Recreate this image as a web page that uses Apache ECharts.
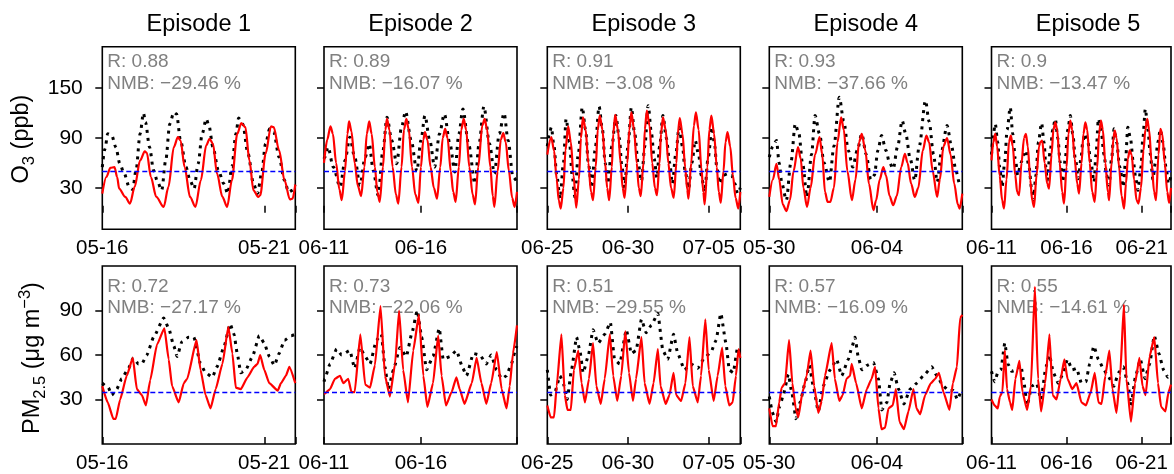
<!DOCTYPE html>
<html>
<head>
<meta charset="utf-8">
<script src="https://cdn.jsdelivr.net/npm/echarts@6/dist/echarts.min.js"></script>
<style>
  html, body { margin: 0; padding: 0; background: #fff; }
  #chart { width: 1174px; height: 474px; }
</style>
</head>
<body>
<div id="chart"></div>
<script>
// episodes / axes
const episodes = ['Episode 1', 'Episode 2', 'Episode 3', 'Episode 4', 'Episode 5'];
const startDates = [[5, 16], [6, 11], [6, 25], [5, 30], [6, 11]];
const hoursSpan = [143, 239, 287, 215, 287];
const o3Ticks = [30, 90, 150];
const pmTicks = [30, 60, 90];
const o3Thresh = 50;
const pmThresh = 35;
const o3R = ['0.88', '0.89', '0.91', '0.93', '0.9'];
const o3NMB = ['−29.46', '−16.07', '−3.08', '−37.66', '−13.47'];
const pmR = ['0.72', '0.73', '0.51', '0.57', '0.55'];
const pmNMB = ['−27.17', '−22.06', '−29.55', '−16.09', '−14.61'];

// O3 (ppb): [hour, value]
const o3Obs1 = [[0,55],[2,77],[4,95],[7,93],[10,79],[13,59],[16,48],[20,31],[22.5,28],[25,51],[28,95],[30.5,120],[32,109],[35,79],[38,51],[41,37],[44,27],[47,63],[50,107],[53,121],[55,119],[58,87],[62,55],[65,39],[68,29],[71,59],[74,95],[77,113],[79,105],[82,79],[86,51],[90,35],[93,23],[96,55],[99,95],[101,114],[104,107],[108,71],[112,35],[115,23],[118,47],[121,83],[124,101],[127,97],[131,67],[135,39],[138,25],[141,27],[143,33]];
const o3Mod1 = [[0,23],[3,43],[6,54],[9,55],[11,43],[12.5,29],[17,19],[20.5,11],[24,31],[28,63],[31.5,74],[33,72],[36,43],[40,19],[45.5,7],[49,31],[53,79],[56,91],[58,87],[61,55],[65,19],[69,7],[73,39],[77,81],[79.5,89],[82,83],[85,47],[89,19],[92.5,7],[96,39],[100,95],[103,108],[106,103],[109,63],[112,27],[115.5,19],[117,21],[121,71],[125,104],[127,103],[131,75],[135,39],[139,16],[141,17],[143,34]];
const o3Obs2 = [[0,65],[1,67],[5,79],[11.5,55],[20,31],[26,63],[32,91],[38,67],[44.5,33],[51,67],[56,83],[61,51],[67,21],[73,75],[78,115],[84,87],[90,59],[96,103],[101,122],[108,87],[115,50],[120,87],[125,117],[131,87],[137,55],[143,95],[149,119],[156,83],[162,49],[167,95],[172,125],[179,83],[187,35],[192,83],[198,128],[205,83],[211,47],[217,95],[223,120],[228,87],[234,43],[239,37]];
const o3Mod2 = [[0,60],[4,88],[8,104],[11,95],[15,60],[19,28],[22,15],[26,50],[29,95],[31,110],[34,98],[38,60],[42,32],[46,20],[50,55],[53,95],[56,110],[59,95],[63,55],[66,25],[69,13],[73,55],[76,100],[78,113],[81,100],[85,55],[89,22],[92,11],[96,55],[99,100],[102,113],[105,100],[109,55],[113,22],[117,12],[120,55],[123,88],[125,97],[128,88],[132,55],[136,30],[140,17],[144,55],[147,90],[150,101],[153,90],[157,50],[160,25],[163,13],[167,55],[170,100],[173,113],[176,100],[180,55],[184,22],[187,10],[191,55],[196,105],[199,113],[202,100],[206,55],[209,20],[211,7],[215,50],[219,88],[222,96],[225,85],[229,50],[233,18],[236,7],[239,25]];
const o3Obs3 = [[0,80],[3,95],[6,103],[10,80],[14,45],[19,17],[24,60],[28,113],[33,85],[37,45],[41,19],[46,70],[52,127],[57,100],[61,60],[66,30],[71,75],[77,128],[82,100],[86,60],[90,35],[96,80],[102,117],[107,90],[111,55],[115,30],[120,80],[125,127],[130,95],[135,60],[140,38],[145,80],[150,129],[155,95],[159,65],[163,42],[167,80],[172,117],[177,90],[182,60],[186,35],[191,70],[196,103],[201,80],[205,50],[210,29],[215,60],[220,87],[225,70],[229,45],[234,25],[239,65],[245,103],[249,80],[252,55],[256,35],[262,45],[268,47],[274,45],[279,35],[283,23],[287,30]];
const o3Mod3 = [[0,70],[6,91],[10,75],[14,40],[17,15],[20,5],[24,30],[27,75],[31,104],[35,85],[39,45],[43,6],[47,40],[50,90],[53,115],[57,100],[61,60],[65,25],[68,15],[72,55],[75,100],[78,117],[82,100],[86,60],[89,30],[92,15],[96,55],[98,95],[101,118],[105,100],[109,60],[112,30],[115,18],[119,60],[122,100],[125,121],[129,100],[133,60],[136,30],[139,20],[143,60],[145,100],[148,123],[152,105],[156,60],[160,30],[163,21],[167,60],[169,95],[172,115],[176,100],[180,60],[184,30],[188,18],[192,60],[194,95],[197,114],[201,95],[205,55],[208,28],[210,17],[214,60],[218,105],[221,121],[225,100],[229,55],[232,25],[234,10],[238,55],[241,100],[244,117],[248,95],[252,55],[255,25],[258,12],[262,50],[265,85],[268,97],[272,80],[276,45],[280,18],[284,5],[287,25]];
const o3Obs4 = [[0,67],[4,80],[8,87],[11,60],[14,35],[19,15],[24,60],[29,107],[33,95],[37,60],[42,19],[47,70],[51,117],[56,95],[61,60],[67,37],[72,80],[78,139],[83,110],[88,75],[93,55],[98,75],[103,95],[108,70],[113,40],[117,45],[121,75],[125,93],[130,75],[134,60],[138,53],[143,80],[148,111],[152,95],[157,65],[162,39],[167,80],[174,135],[178,110],[183,70],[187,37],[192,75],[198,105],[203,80],[208,50],[212,35],[215,33]];
const o3Mod4 = [[0,19],[4,40],[8,59],[11,40],[15,10],[19,2],[23,15],[27,50],[32,79],[35,65],[38,30],[42,7],[46,30],[51,70],[56,91],[59,70],[62,25],[65,13],[68,13],[72,30],[76,85],[80,115],[83,100],[87,50],[92,15],[96,40],[100,85],[103,95],[107,75],[111,35],[116,3],[119,15],[123,40],[127,55],[130,45],[134,20],[138,9],[142,20],[147,55],[151,71],[154,60],[158,35],[162,19],[166,30],[171,75],[175,93],[178,85],[182,50],[187,19],[190,40],[194,80],[198,90],[202,70],[206,35],[210,10],[212,5],[215,23]];
const o3Obs5 = [[0,70],[3,95],[6,107],[10,85],[13,55],[17,31],[21,60],[25,100],[30,127],[34,95],[38,65],[42,45],[47,60],[52,70],[55,75],[60,55],[64,30],[67,15],[71,45],[75,85],[80,108],[84,85],[87,55],[89,39],[94,75],[98,100],[102,113],[106,90],[110,60],[114,37],[118,65],[122,100],[126,117],[130,95],[134,65],[139,41],[143,65],[146,85],[149,95],[154,85],[159,60],[164,37],[167,70],[171,113],[175,100],[180,70],[184,45],[188,33],[192,65],[196,101],[200,85],[205,55],[211,31],[214,60],[218,103],[222,90],[227,60],[231,40],[234,27],[239,55],[242,90],[246,125],[250,100],[254,70],[258,40],[262,60],[266,85],[270,100],[274,85],[279,55],[283,35],[287,45]];
const o3Mod5 = [[0,63],[3,85],[6,95],[9,80],[13,45],[17,15],[20,5],[24,40],[28,85],[31,93],[34,80],[38,45],[41,25],[44,21],[48,60],[52,90],[55,95],[58,80],[62,40],[65,15],[68,7],[72,45],[76,80],[78,85],[81,87],[85,60],[89,35],[92,29],[96,70],[99,100],[102,109],[105,100],[109,60],[113,25],[116,11],[120,55],[123,95],[126,111],[129,100],[133,65],[137,35],[140,23],[144,60],[147,95],[150,109],[153,100],[157,60],[161,25],[165,13],[169,55],[172,95],[175,111],[178,100],[182,60],[186,25],[188,15],[192,60],[195,90],[197,99],[200,90],[204,55],[208,20],[212,5],[215,35],[218,65],[221,75],[224,70],[228,40],[232,15],[235,11],[239,30],[243,75],[246,100],[249,113],[252,100],[256,60],[260,25],[263,15],[267,70],[270,101],[273,95],[277,60],[281,25],[284,12],[287,30]];

// PM2.5 (ug m-3): [hour, value]
const pmObs1 = [[0,41],[4.5,38],[7,33],[10.7,37],[14.4,44],[19.4,51],[23,58],[26.8,54],[29.3,54],[33,60],[38,72],[45.5,85],[49.2,78],[53,66],[55.4,59],[59,69],[64,72],[67.8,72],[72.8,54],[76.5,48],[81.5,45],[85,52],[90,65],[94.7,81],[97.6,74],[100,61],[102.6,48],[106.3,50],[111.3,59],[116.3,73],[120,68],[123.7,59],[127.5,53],[131,61],[135,70],[140,73],[143,74]];
const pmMod1 = [[0,39],[4,28],[8.2,17],[10,17],[13.2,30],[18.1,46],[22.6,58],[25.6,37],[29.3,33],[32.3,26],[35.5,43],[40.5,67],[46,78],[49.2,57],[51.7,39],[56.6,28],[60.4,41],[62.9,44],[69.8,70],[72.8,50],[76.5,33],[80.2,24],[84,37],[89,54],[93.4,79],[96.4,61],[98.9,38],[102.6,37],[107.6,45],[112.5,52],[115,54],[117,60],[120,50],[123.7,41],[130,36],[132.4,41],[136,46],[138.6,52],[143,41]];
const pmObs2 = [[0,42],[1,44],[7.4,54],[15.7,64],[21.9,60],[32,63],[38,51],[44.5,65],[51,59],[57,54],[65,70],[71,74],[75.5,52],[79.6,37],[86,50],[94,65],[102,59],[108.5,74],[115.5,90],[121,72],[127,50],[135,59],[142.7,78],[147.6,57],[156,59],[164,63],[172,51],[176.5,46],[185,61],[193,60],[201,54],[207,60],[213.6,50],[220,44],[226,46],[232,54],[238,65],[239,66]];
const pmMod2 = [[0,34],[1,34],[7.4,37],[13.6,44],[19.8,46],[23.9,41],[30,44],[34,35],[38,35],[45,74],[51,40],[57,38],[63,53],[70,93],[75.5,46],[81.6,32],[88,54],[93,90],[98,50],[104,28],[110.5,63],[117.5,87],[123,46],[128,25],[135,41],[141.4,73],[145.6,46],[151,26],[158,35],[164,45],[168,37],[174,27],[183,41],[189,58],[195,41],[201,27],[207,41],[214,62],[220,37],[226,24],[230,39],[234,61],[239,80]];
const pmObs3 = [[0,50],[5,33],[11.4,35],[18.8,46],[23.7,41],[29.6,30],[36,50],[43.5,72],[48.4,63],[53.3,48],[60.7,59],[68,77],[75.6,68],[85.4,74],[93.8,82],[100,57],[107.7,54],[117.5,77],[125,61],[132,63],[140,84],[147,75],[154.6,80],[164.4,88],[171.9,63],[179,57],[187.7,74],[194,61],[204,50],[213.8,54],[223.7,51],[233.6,58],[243.5,62],[251,70],[258,88],[265.7,68],[270.6,50],[276.5,48],[283,65],[287,60]];
const pmMod3 = [[0,26],[5,18],[10,18],[14,39],[21,74],[26,33],[30,23],[35,23],[39.5,50],[46,63],[51,41],[56,28],[62,44],[68,68],[73,39],[79.5,27],[85.4,44],[93,74],[98,46],[104,29],[110,46],[116,76],[121.5,48],[127.4,29],[132,44],[140,72],[144.7,41],[152,27],[158,41],[164.4,64],[168.4,39],[176,27],[181.7,33],[187.7,48],[191.6,33],[199,29],[205.4,41],[211.4,72],[216.3,39],[223.7,28],[228.6,46],[235,84],[240,50],[247.4,29],[253.3,46],[260,65],[264.7,39],[270.6,26],[275.6,28],[280.5,46],[284.4,64],[287,58]];
const pmObs4 = [[0,32],[3.7,21],[7.4,15],[11.9,26],[15.6,33],[21.2,47],[25,35],[29.7,17],[34.2,28],[39.8,41],[44.6,53],[49,39],[54.6,22],[60,39],[67.7,50],[75,57],[80.7,46],[88,57],[91.8,65],[95.5,72],[99,59],[103,50],[108.6,53],[116,55],[121.6,44],[125.3,23],[131,28],[134.6,41],[139,48],[143.9,37],[150,27],[156.9,37],[164.3,41],[171.7,46],[181,52],[186.6,46],[194,39],[199.6,36],[205,36],[209.7,30],[213.4,35],[215,35]];
const pmMod4 = [[0,24],[3.7,12],[7.4,12],[11,28],[13.8,38],[17.5,41],[22,70],[25.7,41],[29.4,24],[32.3,18],[37,35],[41.6,46],[46,63],[50,39],[54.6,21],[58.4,29],[62,46],[69.5,68],[73,44],[78,29],[81.8,33],[86,44],[90,46],[91.8,54],[96.7,41],[103,24],[108.6,37],[114,44],[117.8,52],[121.6,24],[125,10],[129,11],[132.7,24],[137.5,26],[141,37],[145,15],[150,10],[155,22],[160.6,37],[164,24],[168,20],[173.6,33],[180,41],[184.8,44],[189,48],[194,35],[200.7,23],[204.5,41],[209,52],[212.6,85],[215,87]];
const pmObs5 = [[0,49],[5,42],[10,48],[14.9,50],[21.3,68],[26.3,54],[32.2,49],[39.7,50],[47,53],[52,41],[57,26],[64.5,39],[72,41],[79.3,30],[87,52],[92.7,60],[99,48],[106.6,41],[114,47],[121.5,57],[129,50],[136,51],[143.8,41],[151,42],[157,54],[163.6,66],[171,57],[178.5,51],[186,46],[195.8,39],[203,48],[210.7,52],[218,41],[223,26],[230.5,46],[238,57],[245.4,44],[252.8,54],[260.3,73],[267.7,61],[275,50],[282,45],[287,48]];
const pmMod5 = [[0,30],[5,26],[10,24],[13.4,32],[17.4,35],[21.3,63],[24.8,37],[29.7,28],[33.2,23],[38.2,44],[44.6,56],[49.6,35],[57,23],[63,39],[69.4,106],[74.4,44],[79.3,22],[85.8,41],[92.7,74],[97.7,33],[104,30],[110.6,44],[116.5,57],[121.5,44],[129,37],[136,41],[143.8,28],[151,26],[158.7,35],[165,48],[171,28],[176,27],[182,46],[188.4,63],[193.4,37],[199.8,21],[205.7,46],[211.7,94],[215.7,44],[223,15],[229.5,41],[236.5,58],[241.5,39],[246.4,33],[252.8,59],[260.3,72],[266.2,41],[271.2,25],[278,22],[283,35],[287,40]];

const o3Obs = [o3Obs1, o3Obs2, o3Obs3, o3Obs4, o3Obs5];
const o3Mod = [o3Mod1, o3Mod2, o3Mod3, o3Mod4, o3Mod5];
const pmObs = [pmObs1, pmObs2, pmObs3, pmObs4, pmObs5];
const pmMod = [pmMod1, pmMod2, pmMod3, pmMod4, pmMod5];

const chart = echarts.init(document.getElementById('chart'));

const FONT = 'Liberation Sans';
const gridLefts = [102.3, 324, 547.3, 769.3, 991.5];
const gridW = 193;
const rows = [
  { top: 46.7, height: 182.6, min: -20, max: 200, ticks: o3Ticks, obs: o3Obs, mod: o3Mod, thr: o3Thresh, R: o3R, NMB: o3NMB, rY: 62, nY: 83.5, smooth: 0.3 },
  { top: 266, height: 184, min: 0, max: 120, ticks: pmTicks, obs: pmObs, mod: pmMod, thr: pmThresh, R: pmR, NMB: pmNMB, rY: 286.8, nY: 307.5, smooth: 0.15 }
];

function pad(n) { return n < 10 ? '0' + n : '' + n; }
function dateLabel(col) {
  return function (v) {
    if (v % 120 !== 0) return '';
    const d = new Date(Date.UTC(2023, startDates[col][0] - 1, startDates[col][1]) + v * 3600e3);
    return pad(d.getUTCMonth() + 1) + '-' + pad(d.getUTCDate());
  };
}

const grid = [], xAxis = [], yAxis = [], series = [], graphic = [];

rows.forEach((row, r) => {
  for (let c = 0; c < 5; c++) {
    const idx = r * 5 + c;
    grid.push({
      left: gridLefts[c], top: row.top, width: gridW, height: row.height,
      show: true, borderColor: '#000', borderWidth: 1.6, backgroundColor: 'transparent'
    });
    xAxis.push({
      type: 'value', gridIndex: idx, min: 0, max: hoursSpan[c], interval: 120,
      axisLine: { show: false }, splitLine: { show: false },
      axisTick: { show: true, inside: true, length: 7, lineStyle: { color: '#000', width: 1.5 } },
      axisLabel: { formatter: dateLabel(c), margin: 9, fontSize: 20.5, color: '#000', fontFamily: FONT, showMinLabel: true }
    });
    yAxis.push({
      type: 'value', gridIndex: idx, min: row.min, max: row.max,
      axisLine: { show: false }, splitLine: { show: false },
      axisTick: { show: true, inside: false, length: 7, customValues: row.ticks, lineStyle: { color: '#000', width: 1.5 } },
      axisLabel: { show: c === 0, customValues: row.ticks, margin: 19.5, fontSize: 21, color: '#000', fontFamily: FONT }
    });
    series.push({
      type: 'line', xAxisIndex: idx, yAxisIndex: idx, data: row.obs[c],
      symbol: 'none', smooth: row.smooth, smoothMonotone: 'x',
      lineStyle: { color: '#000', width: 3, type: [3, 5], cap: 'butt' }
    });
    series.push({
      type: 'line', xAxisIndex: idx, yAxisIndex: idx, data: row.mod[c],
      symbol: 'none', smooth: row.smooth, smoothMonotone: 'x',
      lineStyle: { color: '#ff0000', width: 2.2 },
      markLine: {
        silent: true, symbol: 'none', label: { show: false },
        lineStyle: { color: '#0000ff', width: 1.3, type: [5, 3] },
        data: [{ yAxis: row.thr }]
      }
    });
    graphic.push({
      type: 'text', x: gridLefts[c] + 5, y: row.rY, z: 0,
      style: { text: 'R: ' + row.R[c], fill: '#808080', font: '19px "' + FONT + '"', verticalAlign: 'middle' }
    });
    graphic.push({
      type: 'text', x: gridLefts[c] + 5, y: row.nY, z: 0,
      style: { text: 'NMB: ' + row.NMB[c] + ' %', fill: '#808080', font: '19px "' + FONT + '"', verticalAlign: 'middle' }
    });
  }
});

episodes.forEach((t, c) => {
  graphic.push({
    type: 'text', x: gridLefts[c] + gridW / 2, y: 25,
    style: { text: t, fill: '#000', font: '23.5px "' + FONT + '"', align: 'center', verticalAlign: 'middle' }
  });
});

const labRich = {
  a: { fontSize: 23.5, fontFamily: FONT, color: '#000', lineHeight: 32 },
  s: { fontSize: 16.5, fontFamily: FONT, color: '#000', lineHeight: 16, verticalAlign: 'bottom' },
  p: { fontSize: 16.5, fontFamily: FONT, color: '#000', lineHeight: 16, verticalAlign: 'top' }
};
graphic.push({
  type: 'text', x: 22, y: 139, rotation: Math.PI / 2,
  style: { text: '{a|O}{s|3}{a| (ppb)}', rich: labRich, align: 'center', verticalAlign: 'middle' }
});
graphic.push({
  type: 'text', x: 32.5, y: 358, rotation: Math.PI / 2,
  style: { text: '{a|PM}{s|2.5}{a| (μg m}{p|−3}{a|)}', rich: labRich, align: 'center', verticalAlign: 'middle' }
});

chart.setOption({
  animation: false,
  textStyle: { fontFamily: FONT },
  grid, xAxis, yAxis, series, graphic
});
</script>
</body>
</html>
